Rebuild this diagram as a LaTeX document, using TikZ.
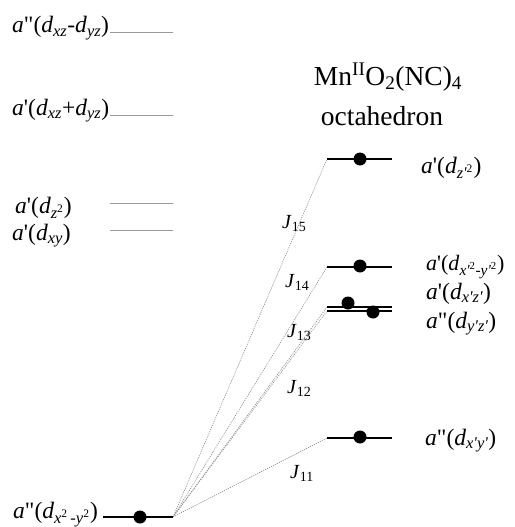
\documentclass[tikz,border=0pt]{standalone}
\usepackage{fontspec}
\setmainfont{Liberation Serif}[Ligatures=TeXOff]
\newcommand\ia{\textit{a}}
\newcommand\pq{\char"27\relax}
\newcommand\dq{\char"22\relax}
\newcommand\dd[1]{\textit{d}\textsubscript{\itshape #1}}
\newcommand\sq{\textsuperscript{\upshape 2}}
\begin{document}
\begin{tikzpicture}[x=1pt,y=-1pt,
  lbl/.style={font=\fontsize{23.5}{26}\selectfont, inner sep=0pt, anchor=base west},
  jl/.style={font=\fontsize{20}{22}\selectfont, inner sep=0pt, anchor=base west},
  ttl/.style={font=\fontsize{27.5}{30}\selectfont, inner sep=0pt, anchor=base},
  lev/.style={line width=1.8pt},
  dotl/.style={gray!80, line width=1pt, dash pattern=on 0.4pt off 0.5pt},
  conn/.style={gray, line width=0.5pt, dash pattern=on 1.2pt off 1pt},
  el/.style={fill=black, circle, inner sep=0pt, minimum size=13pt}]
\useasboundingbox (0,0) rectangle (514,527);
% left labels
\node[lbl] (l1) at (12,33) {\ia\dq(\dd{xz}-\dd{yz})};
\node[lbl] (l2) at (12,115) {\ia\pq(\dd{xz}+\dd{yz})};
\node[lbl] (l3) at (15,213) {\ia\pq(\dd{z\sq})};
\node[lbl] (l4) at (12,240) {\ia\pq(\dd{xy})};
\coordinate (h1a) at (110,33); \coordinate (h1b) at (173,33);
\coordinate (h2a) at (110,115); \coordinate (h2b) at (173,115);
\coordinate (h3a) at (110,203); \coordinate (h3b) at (173,203);
\coordinate (h4a) at (110,230); \coordinate (h4b) at (173,230);
\draw[dotl] (h1a) -- (h1b);
\draw[dotl] (h2a) -- (h2b);
\draw[dotl] (h3a) -- (h3b);
\draw[dotl] (h4a) -- (h4b);
% title
\node[ttl] (t1) at (388,85) {Mn\textsuperscript{II}O\textsubscript{2}(NC)\textsubscript{4}};
\node[ttl] (t2) at (382,125) {octahedron};
% right levels
\coordinate (r5a) at (327,159); \coordinate (r5b) at (392,159);
\coordinate (r4a) at (327,267); \coordinate (r4b) at (392,267);
\coordinate (r3a) at (327,307); \coordinate (r3b) at (392,307);
\coordinate (r2a) at (327,311); \coordinate (r2b) at (392,311);
\coordinate (r1a) at (327,438); \coordinate (r1b) at (392,438);
\coordinate (ga) at (103,517); \coordinate (gb) at (173,517);
% connectors
\draw[conn] (gb) -- (r5a);
\draw[conn] (gb) -- (r4a);
\draw[conn] (gb) -- (r3a);
\draw[conn] (gb) -- (r2a);
\draw[conn] (gb) -- (r1a);
% levels
\draw[lev] (r5a) -- (r5b);
\draw[lev] (r4a) -- (r4b);
\draw[lev] (r3a) -- (r3b);
\draw[lev] (r2a) -- (r2b);
\draw[lev] (r1a) -- (r1b);
\draw[lev] (ga) -- (gb);
\node[el] (e5) at (360,159) {};
\node[el] (e4) at (360,266) {};
\node[el] (e3) at (348,303) {};
\node[el] (e2) at (373,312) {};
\node[el] (e1) at (360,437) {};
\node[el] (e0) at (140,517) {};
% right labels
\node[lbl] (m5) at (421,173) {\ia\pq(\dd{z\pq\sq})};
\node[lbl, font=\fontsize{22}{24}\selectfont] (m4) at (426,270) {\ia\pq(\dd{x\pq\sq-y\pq\sq})};
\node[lbl] (m3) at (426,299) {\ia\pq(\dd{x\pq z\pq})};
\node[lbl] (m2) at (426,328) {\ia\dq(\dd{y\pq z\pq})};
\node[lbl] (m1) at (425,445) {\ia\dq(\dd{x\pq y\pq})};
\node[lbl] (m0) at (13,518) {\ia\dq(\dd{x\sq\,-y\sq})};
% J labels
\node[jl] (j15) at (282,228) {\textit{J}\textsubscript{15}};
\node[jl] (j14) at (285,287) {\textit{J}\textsubscript{14}};
\node[jl] (j13) at (287,337) {\textit{J}\textsubscript{13}};
\node[jl] (j12) at (287,393) {\textit{J}\textsubscript{12}};
\node[jl] (j11) at (290,478) {\textit{J}\textsubscript{11}};
\end{tikzpicture}
\end{document}
